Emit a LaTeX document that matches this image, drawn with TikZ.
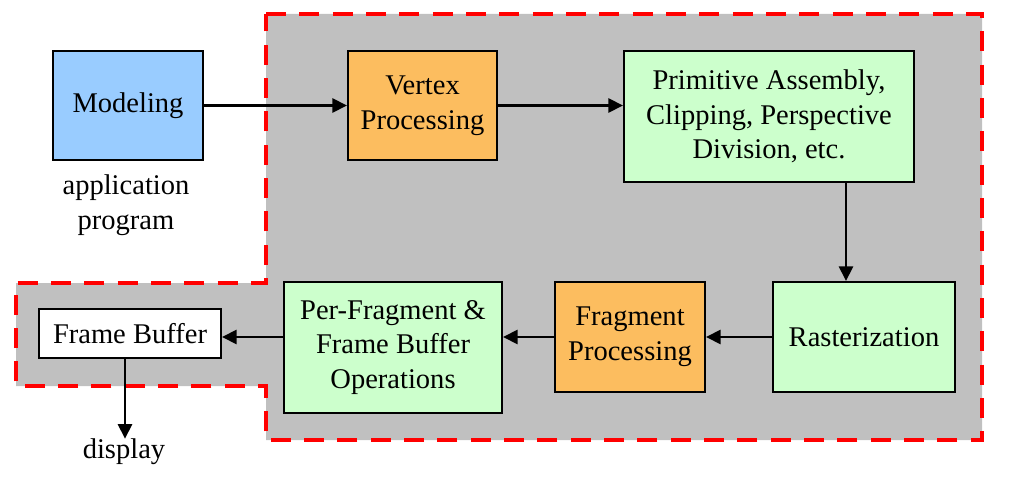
\documentclass[tikz,border=0pt]{standalone}
\usepackage{fontspec}
\setmainfont{Liberation Serif}
\usetikzlibrary{arrows.meta}
\definecolor{cblue}{HTML}{99CCFF}
\definecolor{corange}{HTML}{FCBD5F}
\definecolor{cgreen}{HTML}{CCFFCC}
\definecolor{cgrey}{HTML}{C0C0C0}
\definecolor{cred}{HTML}{FF0000}
\tikzset{
  stage/.style={draw=black, line width=1.5pt, inner sep=0pt, align=center,
    font=\fontsize{21.4}{26}\selectfont},
  plain/.style={inner sep=0pt, align=center, font=\fontsize{21.4}{26}\selectfont},
  arr/.style={draw=black, line width=2.1pt, -{Triangle[length=11pt,width=10.5pt]}},
  region/.style={draw=cred, fill=cgrey, line width=3pt, dash pattern=on 15pt off 10pt},
}
\begin{document}
\begin{tikzpicture}[x=0.75pt, y=-0.75pt]
\useasboundingbox (0,0) rectangle (1010,481);
\path[region] (266,14) -- (982,14) -- (982,440) -- (266,440) -- (266,386)
  -- (16,386) -- (16,283) -- (266,283) -- cycle;

\node[stage, fill=cblue, minimum width=112.5pt, minimum height=81.75pt] (mo) at (128,105.5) {Modeling};
\node[stage, fill=corange, minimum width=111.75pt, minimum height=81.75pt] (vp) at (422.5,105.5) {Vertex\\Processing};
\node[stage, fill=cgreen, minimum width=217.5pt, minimum height=98.25pt] (pa) at (769,116.5) {Primitive Assembly,\\Clipping, Perspective\\Division, etc.};
\node[stage, fill=cgreen, minimum width=136.5pt, minimum height=82.5pt] (ra) at (864,337) {Rasterization};
\node[stage, fill=corange, minimum width=112.5pt, minimum height=82.5pt] (fp) at (630,337) {Fragment\\Processing};
\node[stage, fill=cgreen, minimum width=163.5pt, minimum height=98.25pt] (pf) at (393,347.5) {Per-Fragment \&\\Frame Buffer\\Operations};
\node[stage, fill=white, minimum width=136.5pt, minimum height=36.75pt] (fb) at (130,333.5) {Frame Buffer};

\node[plain] (app) at (126,205) {application\\program};
\node[plain] (disp) at (124,452) {display};

\draw[arr] (mo.east) -- (vp.west);
\draw[arr] (vp.east) -- (vp.east -| pa.west);
\draw[arr] ([xshift=57.75pt]pa.south) -- ([xshift=57.75pt]pa.south |- ra.north);
\draw[arr] (ra.west) -- (fp.east);
\draw[arr] (fp.west) -- (fp.west -| pf.east);
\draw[arr] (fp.west -| pf.west) -- (fp.west -| fb.east);
\draw[arr] ([xshift=-3.75pt]fb.south) -- ([xshift=-3.75pt]fb.south |- disp.north);
\end{tikzpicture}
\end{document}
